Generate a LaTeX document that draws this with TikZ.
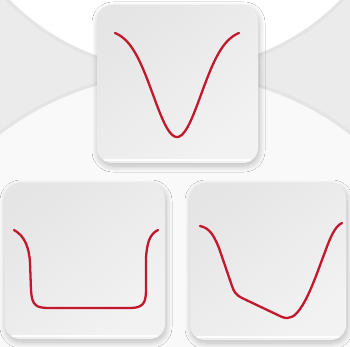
\documentclass[tikz,border=0pt]{standalone}
\usetikzlibrary{shadows.blur}
\definecolor{curvered}{RGB}{193,24,46}
\definecolor{bgray}{RGB}{235,235,235}
\definecolor{paper}{RGB}{249,249,249}
\begin{document}
\begin{tikzpicture}[x=1pt,y=-1pt,
  card/.style={rounded corners=15pt,
    blur shadow={shadow xshift=1pt,shadow yshift=-3pt,shadow blur steps=12,shadow opacity=25,shadow blur radius=6pt},
    top color=gray!20, middle color=white!96!gray, bottom color=gray!10, shading angle=40},
  rim/.style={draw=white, line width=1.2pt, opacity=0.9},
  edge/.style={gray!30, line width=3pt, opacity=0.35},
  wave/.style={draw=curvered, line width=2.3pt, line cap=round, line join=round}]
\useasboundingbox (0,0) rectangle (350,347);
\begin{scope}
\clip (0,0) rectangle (350,347);
\fill[bgray] (0,0) rectangle (350,347);
% lower large circle
\fill[paper] (175,360) circle[radius=285];
\draw[edge] (175,360) circle[radius=287];
% upper large circle
\fill[white] (175,-162) circle[radius=231];
\draw[edge] (175,-162) circle[radius=233];
\end{scope}
% cards
\path[card] (97,5) rectangle (258,163);
\path[card] (5,183) rectangle (165,339);
\path[card] (190,183) rectangle (346,340);
\draw[rim] (104,160) -- (251,160);
\draw[rim] (12,336) -- (158,336);
\draw[rim] (197,337) -- (339,337);
% curves
\draw[wave] plot[domain=-62:62, samples=80, smooth] ({177+\x}, {33+104*(exp(-(\x/34)^2)-0.036)/(1-0.036)});
\draw[wave] (14,230) .. controls (25,236) and (29,248) .. (30,262) -- (31,290)
  .. controls (32,306) and (36,308) .. (50,308) -- (130,308)
  .. controls (143,308) and (146,303) .. (146,290) -- (146,258)
  .. controls (147,242) and (150,234) .. (158,230);
\draw[wave] (200,226) .. controls (210,228) and (214,236) .. (219,248) -- (232,286)
  .. controls (234,292) and (236,295) .. (242,298) -- (282,317)
  .. controls (290,320) and (295,316) .. (300,309)
  .. controls (310,295) and (318,270) .. (325,252)
  .. controls (330,238) and (335,226) .. (342,223);
\end{tikzpicture}
\end{document}
